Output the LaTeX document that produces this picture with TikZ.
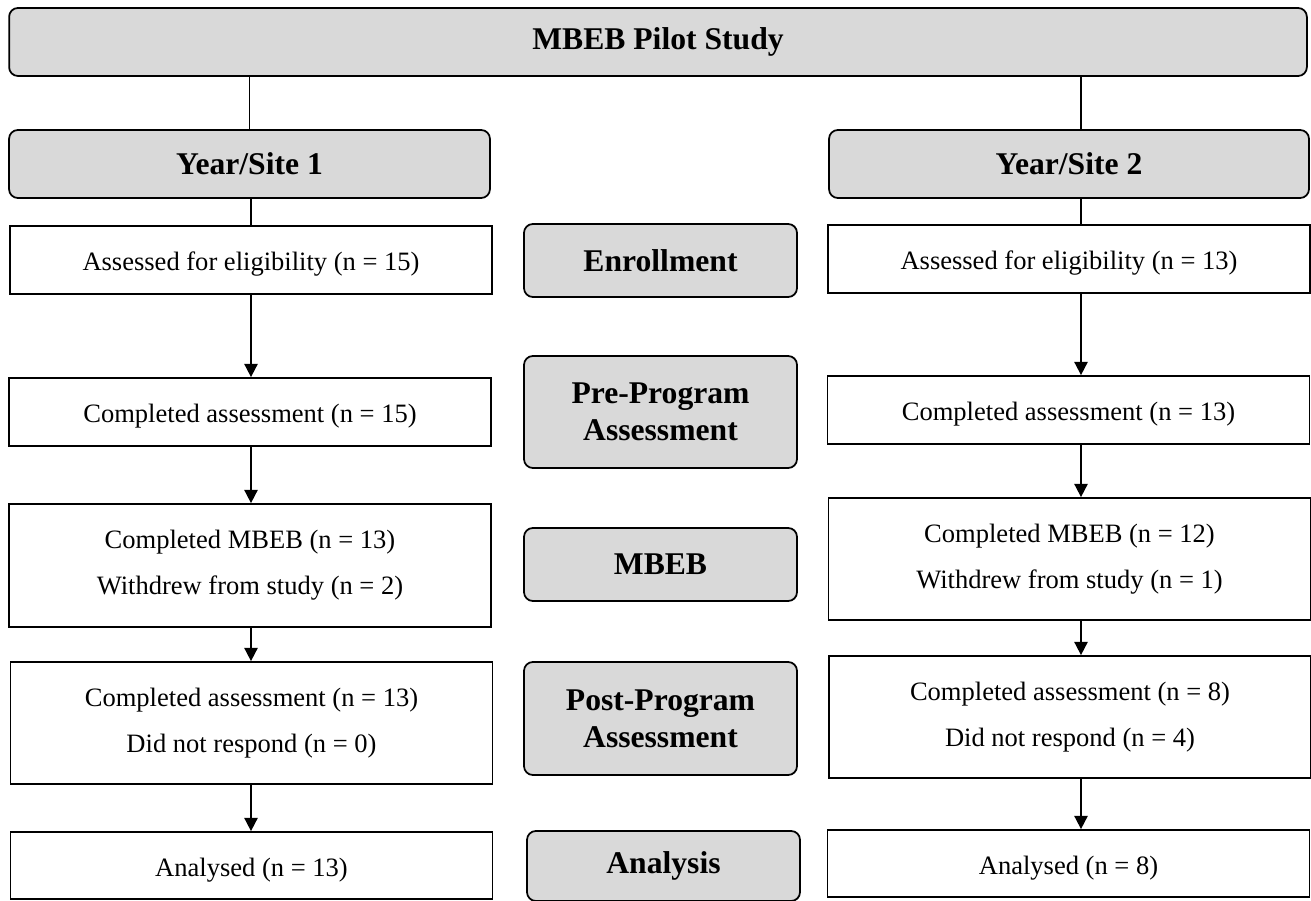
\documentclass[tikz,border=0pt]{standalone}
\usepackage{fontspec}
\setmainfont{Liberation Serif}
\usepackage{tikz}
\usetikzlibrary{
    arrows.meta,
    positioning
}
\definecolor{BoxGray}{RGB}{217,217,217}
\tikzset{
  head/.style   = {draw, rounded corners=5pt, fill=BoxGray, line width=1pt,
                   align=center, font=\fontsize{18}{21}\selectfont\bfseries},
  phase/.style  = {head, minimum width=5.46cm},
  stage/.style  = {draw, line width=1pt, minimum width=9.64cm, align=center,
                   font=\fontsize{15.1}{26}\selectfont},
  sstage/.style = {stage, minimum height=1.36cm, text height=16pt, text depth=4pt},
  arr/.style    = {-{Triangle[length=7.5pt, width=7.5pt]}, line width=1pt},
  link/.style   = {line width=1pt}
}

\begin{document}
\begin{tikzpicture}[x=0.02cm, y=-0.02cm]
\useasboundingbox (0,0) rectangle (1311,901);

\node[head, minimum width=25.96cm, minimum height=1.36cm] (top) at (658,42) {MBEB Pilot Study};
\node[head, minimum width=9.62cm, minimum height=1.36cm] (s1) at (249.5,164) {Year/Site 1};
\node[head, minimum width=9.60cm, minimum height=1.36cm] (s2) at (1069,164) {Year/Site 2};
\coordinate (rx) at (1081,0);

% phases
\node[phase, minimum height=1.46cm] (enr) at (660.5,260.5) {Enrollment};
\node[phase, minimum height=2.24cm] (pre) at (660.5,412) {Pre-Program\\Assessment};
\node[phase, minimum height=1.46cm] (mbeb) at (660.5,564.5) {MBEB};
\node[phase, minimum height=2.26cm] (post) at (660.5,718.5) {Post-Program\\Assessment};
\node[phase, minimum height=1.40cm] (ana) at (663.5,866) {Analysis};

% site 1
\node[sstage] (a1) at (251,260) {Assessed for eligibility (n = 15)};
\node[sstage] (c1) at (250,412) {Completed assessment (n = 15)};
\node[stage, minimum height=2.46cm] (m1) at (250,565.5) {Completed MBEB (n = 13)\\Withdrew from study (n = 2)};
\node[stage, minimum height=2.44cm] (p1) at (251.5,723) {Completed assessment (n = 13)\\Did not respond (n = 0)};
\node[sstage, minimum height=1.34cm] (n1) at (251.5,865.5) {Analysed (n = 13)};

% site 2
\node[sstage] (a2) at (1069,259) {Assessed for eligibility (n = 13)};
\node[sstage] (c2) at (1068.5,410) {Completed assessment (n = 13)};
\node[stage, minimum height=2.44cm] (m2) at (1069.5,559) {Completed MBEB (n = 12)\\Withdrew from study (n = 1)};
\node[stage, minimum height=2.44cm] (p2) at (1070,717) {Completed assessment (n = 8)\\Did not respond (n = 4)};
\node[sstage, minimum height=1.34cm] (n2) at (1068.5,863.5) {Analysed (n = 8)};

\draw[link] (top.south -| s1) -- (s1.north);
\draw[link] (top.south -| rx) -- (s2.north -| rx);
\draw[link] (s1.south -| a1) -- (a1.north);
\draw[link] (s2.south -| rx) -- (a2.north -| rx);

\draw[arr] (a1.south -| a1) -- (c1.north -| a1);
\draw[arr] (c1.south -| a1) -- (m1.north -| a1);
\draw[arr] (m1.south -| a1) -- (p1.north -| a1);
\draw[arr] (p1.south -| a1) -- (n1.north -| a1);
\draw[arr] (a2.south -| rx) -- (c2.north -| rx);
\draw[arr] (c2.south -| rx) -- (m2.north -| rx);
\draw[arr] (m2.south -| rx) -- (p2.north -| rx);
\draw[arr] (p2.south -| rx) -- (n2.north -| rx);
\end{tikzpicture}
\end{document}
